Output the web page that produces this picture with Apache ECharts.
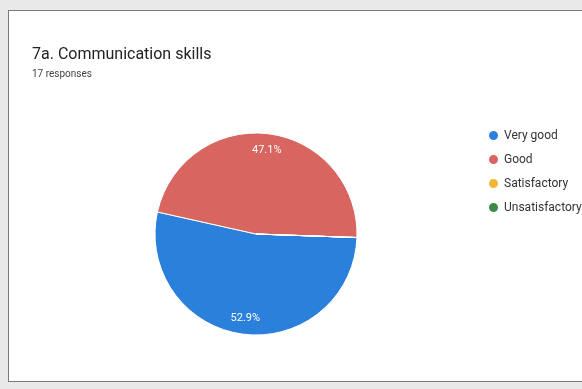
<!DOCTYPE html>
<html><head><meta charset="utf-8">
<script src="https://cdn.jsdelivr.net/npm/echarts@6/dist/echarts.min.js"></script>
<style>
html,body{margin:0;padding:0;background:#e9e9e9;width:582px;height:389px;overflow:hidden;}
#card{position:absolute;left:8px;top:10px;width:590px;height:370px;background:#fff;border:1.5px solid #7a7a7a;border-right:none;}
#chart{position:absolute;left:0;top:0;width:582px;height:389px;}
</style></head>
<body>
<div id="card"></div>
<div id="chart"></div>
<script>
const categories = ['Very good', 'Good', 'Satisfactory', 'Unsatisfactory'];
const responses = [9, 8, 0, 0];
const colors = ['#2b80dc', '#d8655f', '#f2b535', '#3d8a46'];
const titleText = '7a. Communication skills';
const subtitleText = '17 responses';

const data = categories.map((c, i) => ({ name: c, value: responses[i] }));
const chart = echarts.init(document.getElementById('chart'), null, { renderer: 'canvas' });
chart.setOption({
  backgroundColor: 'transparent',
  color: colors,
  animation: false,
  title: {
    text: titleText, subtext: subtitleText, left: 27, top: 42, itemGap: 6,
    textStyle: { fontFamily: 'Roboto', fontSize: 16, fontWeight: 'normal', color: '#222' },
    subtextStyle: { fontFamily: 'Roboto', fontSize: 10, color: '#444' }
  },
  legend: {
    orient: 'vertical', left: 482, top: 124, icon: 'circle', itemWidth: 11, itemHeight: 11,
    itemGap: 11, data: categories,
    textStyle: { fontFamily: 'Roboto', fontSize: 12, color: '#333' }
  },
  series: [
    {
      type: 'pie', center: [256, 234], radius: [0, 101], startAngle: -2, clockwise: true,
      data: data, label: { show: false }, labelLine: { show: false },
      itemStyle: { borderColor: '#ffffff', borderWidth: 1 }
    },
    {
      type: 'pie', center: [256, 234], radius: [62, 101], startAngle: -2, clockwise: true,
      silent: true, data: data, itemStyle: { color: 'rgba(0,0,0,0)' },
      labelLine: { show: false },
      label: {
        show: true, position: 'inside', color: '#fff', fontFamily: 'Roboto', fontSize: 11,
        formatter: p => p.value > 0 ? p.percent.toFixed(1) + '%' : ''
      }
    }
  ]
});
</script>
</body></html>
